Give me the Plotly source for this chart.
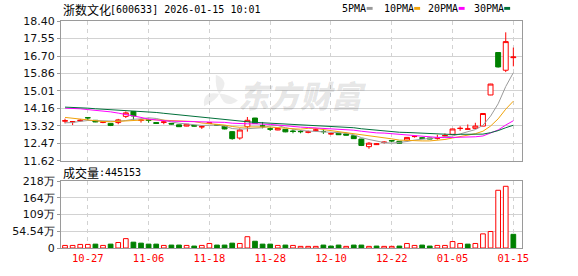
import math
import plotly.graph_objects as go

# ---------------- data ----------------
dates = [
    "2025-10-22", "2025-10-23", "2025-10-24", "2025-10-27", "2025-10-28", "2025-10-29", "2025-10-30", "2025-10-31",
    "2025-11-03", "2025-11-04", "2025-11-05", "2025-11-06", "2025-11-07", "2025-11-10", "2025-11-11", "2025-11-12",
    "2025-11-13", "2025-11-14", "2025-11-17", "2025-11-18", "2025-11-19", "2025-11-20", "2025-11-21", "2025-11-24",
    "2025-11-25", "2025-11-26", "2025-11-27", "2025-11-28", "2025-12-01", "2025-12-02", "2025-12-03", "2025-12-04",
    "2025-12-05", "2025-12-08", "2025-12-09", "2025-12-10", "2025-12-11", "2025-12-12", "2025-12-15", "2025-12-16",
    "2025-12-17", "2025-12-18", "2025-12-19", "2025-12-22", "2025-12-23", "2025-12-24", "2025-12-25", "2025-12-26",
    "2025-12-29", "2025-12-30", "2025-12-31", "2026-01-05", "2026-01-06", "2026-01-07", "2026-01-08", "2026-01-09",
    "2026-01-12", "2026-01-13", "2026-01-14", "2026-01-15",
]

opens = [13.54, 13.51, 13.55, 13.71, 13.58, 13.48, 13.43, 13.47, 13.77, 14.01,
         13.57, 13.60, 13.47, 13.48, 13.43, 13.36, 13.30, 13.33, 13.26, 13.43,
         13.36, 13.30, 13.03, 12.72, 13.27, 13.69, 13.31, 13.17, 13.11, 13.14,
         13.06, 13.04, 13.00, 13.10, 13.04, 12.92, 12.95, 12.92, 12.83, 12.67,
         12.30, 12.40, 12.50, 12.60, 12.56, 12.62, 12.79, 12.73, 12.72, 12.71,
         12.82, 12.90, 13.18, 13.15, 13.19, 13.30, 14.81, 16.87, 16.01, 16.62]
highs = [13.66, 13.53, 13.64, 13.72, 13.59, 13.52, 13.43, 13.65, 14.01, 14.01,
         13.66, 13.65, 13.48, 13.55, 13.44, 13.37, 13.40, 13.34, 13.33, 13.47,
         13.38, 13.31, 13.05, 13.19, 13.74, 13.70, 13.50, 13.24, 13.20, 13.15,
         13.14, 13.11, 13.08, 13.19, 13.14, 12.99, 12.96, 12.93, 12.84, 12.68,
         12.52, 12.47, 12.56, 12.62, 12.57, 12.76, 12.83, 12.76, 12.73, 12.88,
         12.94, 13.17, 13.29, 13.38, 13.46, 13.93, 15.35, 16.87, 17.85, 17.11]
lows = [13.43, 13.35, 13.52, 13.58, 13.49, 13.44, 13.30, 13.39, 13.69, 13.61,
        13.47, 13.46, 13.42, 13.39, 13.38, 13.26, 13.29, 13.28, 13.16, 13.42,
        13.31, 13.14, 12.64, 12.64, 13.03, 13.42, 13.19, 13.06, 13.10, 13.00,
        12.95, 12.95, 12.95, 13.05, 12.92, 12.88, 12.87, 12.85, 12.68, 12.33,
        12.20, 12.38, 12.45, 12.52, 12.46, 12.60, 12.74, 12.68, 12.66, 12.64,
        12.78, 12.89, 13.07, 13.14, 13.16, 13.29, 14.80, 16.14, 15.92, 16.20]
closes = [13.56, 13.52, 13.58, 13.70, 13.50, 13.50, 13.33, 13.60, 13.94, 13.79,
          13.59, 13.58, 13.43, 13.50, 13.40, 13.27, 13.39, 13.30, 13.27, 13.46,
          13.33, 13.16, 12.69, 13.11, 13.58, 13.43, 13.29, 13.15, 13.19, 13.02,
          13.04, 13.03, 13.02, 13.11, 13.03, 12.93, 12.88, 12.86, 12.69, 12.36,
          12.47, 12.44, 12.52, 12.58, 12.47, 12.75, 12.80, 12.71, 12.68, 12.72,
          12.84, 13.16, 13.19, 13.16, 13.30, 13.91, 15.34, 16.17, 17.40, 16.65]

ma5 = [13.46, 13.47, 13.53, 13.57, 13.57, 13.56, 13.52, 13.53, 13.57, 13.63,
       13.65, 13.70, 13.67, 13.58, 13.50, 13.44, 13.40, 13.37, 13.33, 13.34,
       13.35, 13.30, 13.18, 13.15, 13.17, 13.19, 13.22, 13.31, 13.33, 13.22,
       13.14, 13.09, 13.06, 13.04, 13.05, 13.02, 12.99, 12.96, 12.88, 12.74,
       12.65, 12.56, 12.50, 12.47, 12.50, 12.55, 12.62, 12.66, 12.68, 12.73,
       12.75, 12.82, 12.92, 13.01, 13.13, 13.34, 13.78, 14.38, 15.22, 15.89]
ma10 = [13.72, 13.68, 13.63, 13.60, 13.55, 13.52, 13.51, 13.53, 13.56, 13.60,
        13.61, 13.61, 13.60, 13.58, 13.57, 13.54, 13.55, 13.52, 13.45, 13.42,
        13.39, 13.35, 13.28, 13.24, 13.26, 13.27, 13.26, 13.25, 13.24, 13.20,
        13.17, 13.15, 13.19, 13.19, 13.13, 13.08, 13.04, 13.01, 12.96, 12.90,
        12.84, 12.78, 12.73, 12.68, 12.62, 12.60, 12.59, 12.58, 12.58, 12.61,
        12.65, 12.72, 12.79, 12.85, 12.93, 13.05, 13.30, 13.65, 14.12, 14.51]
ma20 = [14.17, 14.16, 14.14, 14.10, 14.07, 14.04, 13.99, 13.93, 13.87, 13.80,
        13.72, 13.64, 13.59, 13.56, 13.54, 13.53, 13.52, 13.51, 13.50, 13.51,
        13.50, 13.48, 13.44, 13.41, 13.41, 13.41, 13.41, 13.38, 13.35, 13.31,
        13.28, 13.25, 13.23, 13.21, 13.19, 13.18, 13.15, 13.13, 13.10, 13.05,
        13.00, 12.97, 12.96, 12.93, 12.88, 12.84, 12.82, 12.80, 12.77, 12.75,
        12.74, 12.75, 12.76, 12.76, 12.78, 12.82, 12.95, 13.11, 13.35, 13.56]
ma30 = [14.22, 14.21, 14.20, 14.17, 14.14, 14.12, 14.10, 14.08, 14.06, 14.04,
        14.02, 14.00, 13.96, 13.92, 13.88, 13.84, 13.80, 13.76, 13.72, 13.68,
        13.64, 13.61, 13.57, 13.54, 13.51, 13.48, 13.46, 13.44, 13.42, 13.41,
        13.39, 13.37, 13.35, 13.33, 13.32, 13.30, 13.28, 13.26, 13.22, 13.17,
        13.13, 13.09, 13.06, 13.03, 13.00, 12.99, 12.97, 12.95, 12.93, 12.90,
        12.89, 12.89, 12.90, 12.90, 12.89, 12.91, 12.98, 13.08, 13.22, 13.34]

# volume in 万 (10k shares) and its up(1)/down(0) colour flag
volume_wan = [8.4, 8.4, 11.6, 11.6, 12.6, 8.4, 12.6, 17.9, 30.5, 19.0,
              15.8, 12.6, 12.6, 8.4, 9.5, 9.5, 8.4, 6.3, 8.4, 14.7,
              9.5, 9.5, 15.8, 14.7, 36.8, 22.0, 12.6, 12.6, 8.4, 9.5,
              8.4, 5.3, 5.3, 5.3, 9.5, 6.3, 9.5, 5.3, 9.5, 9.5,
              5.3, 6.3, 5.3, 5.3, 6.3, 14.7, 8.4, 9.5, 6.3, 8.4,
              8.4, 21.0, 14.7, 12.6, 14.7, 46.0, 53.7, 188.0, 201.0, 44.5]
volume_up = [1, 1, 1, 1, 0, 1, 0, 1, 1, 0,
             0, 0, 0, 1, 0, 0, 1, 0, 1, 1,
             0, 0, 0, 1, 1, 0, 0, 0, 1, 0,
             1, 1, 1, 1, 0, 0, 0, 1, 0, 0,
             1, 0, 1, 1, 0, 1, 1, 0, 0, 1,
             1, 1, 1, 0, 1, 1, 1, 1, 1, 0]

price_tick_labels = ["11.62", "12.47", "13.32", "14.16", "15.01", "15.86", "16.70", "17.55", "18.40"]
vol_tick_values = [0, 54.54, 109, 164, 218]
vol_tick_labels = ["0", "54.54万", "109万", "164万", "218万"]
date_tick_values = ["2025-10-27", "2025-11-06", "2025-11-18", "2025-11-28",
                    "2025-12-10", "2025-12-22", "2026-01-05", "2026-01-15"]
date_tick_labels = ["10-27", "11-06", "11-18", "11-28", "12-10", "12-22", "01-05", "01-15"]

title_cn = "浙数文化"
title_rest = "[600633] 2026-01-15 10:01"
vol_title_cn = "成交量"
vol_title_rest = ":445153"
ma_names = ["5PMA", "10PMA", "20PMA", "30PMA"]
watermark = "东方财富"

# ---------------- style ----------------
RED = "#ff0000"
GREEN = "#008000"
MA_COLORS = ["#9a9a9a", "#f0a30a", "#ff00ff", "#00703a"]
BORDER = "#9a9a9a"
GRID = "#d2d2d2"

W, H = 578, 276
L, R, T, B = 56, 522, 21, 255


def px(x):
    return (x - L) / (R - L)


def py(y):
    return (B - y) / (B - T)


fig = go.Figure()

fig.add_trace(go.Candlestick(
    x=dates, open=opens, high=highs, low=lows, close=closes,
    increasing=dict(line=dict(color=RED, width=1), fillcolor="white"),
    decreasing=dict(line=dict(color=GREEN, width=1), fillcolor=GREEN),
    whiskerwidth=0, xaxis="x", yaxis="y", showlegend=False, hoverinfo="skip",
))

for series, color in zip([ma5, ma10, ma20, ma30], MA_COLORS):
    fig.add_trace(go.Scatter(
        x=dates, y=series, mode="lines", line=dict(color=color, width=1),
        xaxis="x", yaxis="y", showlegend=False, hoverinfo="skip",
    ))

fig.add_trace(go.Bar(
    x=dates, y=volume_wan, width=0.62,
    marker=dict(color=["white" if u else GREEN for u in volume_up],
                line=dict(color=[RED if u else GREEN for u in volume_up], width=1)),
    xaxis="x2", yaxis="y2", showlegend=False, hoverinfo="skip",
))

xrange = [-0.53, 60.14]
axis_font = dict(family="DejaVu Sans", size=11, color="#111111")

fig.update_layout(
    width=W, height=H,
    margin=dict(l=L, r=W - R, t=T, b=H - B),
    paper_bgcolor="white", plot_bgcolor="white",
    showlegend=False, hovermode=False,
    boxgap=0.35, boxgroupgap=0,
    xaxis=dict(
        domain=[0, 1], anchor="y", type="category", range=xrange,
        tickvals=date_tick_values, showticklabels=False, ticks="",
        showgrid=True, gridcolor=GRID, gridwidth=1, griddash="4px,4px",
        showline=True, mirror=True, linecolor=BORDER, linewidth=1,
        zeroline=False, rangeslider=dict(visible=False), fixedrange=True,
    ),
    yaxis=dict(
        domain=[py(165), 1], anchor="x", range=[11.62, 18.40],
        tickvals=[float(v) for v in price_tick_labels], ticktext=price_tick_labels,
        tickfont=axis_font, ticks="outside", ticklen=3, tickcolor=BORDER,
        showgrid=True, gridcolor=GRID, gridwidth=1,
        showline=True, mirror=True, linecolor=BORDER, linewidth=1,
        zeroline=False, fixedrange=True,
    ),
    xaxis2=dict(
        domain=[0, 1], anchor="y2", type="category", matches="x", range=xrange,
        tickvals=date_tick_values, ticktext=date_tick_labels,
        tickfont=dict(family="DejaVu Sans Mono", size=10.5, color=RED), ticks="",
        showgrid=True, gridcolor=GRID, gridwidth=1, griddash="4px,4px",
        showline=True, mirror=True, linecolor=BORDER, linewidth=1,
        zeroline=False, fixedrange=True,
    ),
    yaxis2=dict(
        domain=[0, py(186)], anchor="x2", range=[0, 218],
        tickvals=vol_tick_values, ticktext=vol_tick_labels,
        tickfont=axis_font, ticks="outside", ticklen=3, tickcolor=BORDER,
        showgrid=True, gridcolor=GRID, gridwidth=1,
        showline=True, mirror=True, linecolor=BORDER, linewidth=1,
        zeroline=False, fixedrange=True,
    ),
)

annotations = []
shapes = []


def add_text(text, x, y, font, anchor="left"):
    annotations.append(dict(
        text=text, x=px(x), y=py(y), xref="paper", yref="paper",
        xanchor=anchor, yanchor="middle", showarrow=False, font=font,
    ))


cjk_font = dict(family="Noto Sans CJK SC", size=12, color="#000000")
mono_font = dict(family="DejaVu Sans Mono", size=10, color="#000000")

add_text(title_cn, 56, 9, cjk_font)
add_text(title_rest, 104, 9, mono_font)
add_text(vol_title_cn, 56, 177, cjk_font)
add_text(vol_title_rest, 92, 177, mono_font)

legend_x = [338, 380, 425, 471]
for name, color, lx in zip(ma_names, MA_COLORS, legend_x):
    add_text(name, lx, 8, mono_font)
    sx = lx + 6 * len(name) + 3
    shapes.append(dict(type="rect", xref="paper", yref="paper",
                       x0=px(sx), x1=px(sx + 6), y0=py(9.5), y1=py(6.5),
                       fillcolor=color, line=dict(width=0)))

# faint watermark: logo swirl + brand text
cx, cy, rad = 216, 96, 20
petal_paths = []
for k in range(3):
    a = math.radians(100 + 120 * k)
    tip = (cx + rad * math.cos(a), cy - rad * math.sin(a))
    c1 = (cx + rad * 0.9 * math.cos(a - 0.9), cy - rad * 0.9 * math.sin(a - 0.9))
    c2 = (cx + rad * 0.35 * math.cos(a + 0.5), cy - rad * 0.35 * math.sin(a + 0.5))
    p = "M{:.5f},{:.5f} Q{:.5f},{:.5f} {:.5f},{:.5f} Q{:.5f},{:.5f} {:.5f},{:.5f} Z".format(
        px(cx), py(cy), px(c1[0]), py(c1[1]), px(tip[0]), py(tip[1]),
        px(c2[0]), py(c2[1]), px(cx), py(cy))
    petal_paths.append(p)
for p in petal_paths:
    shapes.append(dict(type="path", path=p, xref="paper", yref="paper",
                       fillcolor="rgba(0,0,0,0.07)", line=dict(width=0), layer="below"))

annotations.append(dict(
    text=watermark, x=px(300), y=py(97), xref="paper", yref="paper",
    xanchor="center", yanchor="middle", showarrow=False,
    font=dict(family="Noto Sans CJK SC", size=31, color="rgba(0,0,0,0.11)",
              weight=900, style="italic"),
))

fig.update_layout(annotations=annotations, shapes=shapes)

fig.write_html("out.html", config={"staticPlot": True})
